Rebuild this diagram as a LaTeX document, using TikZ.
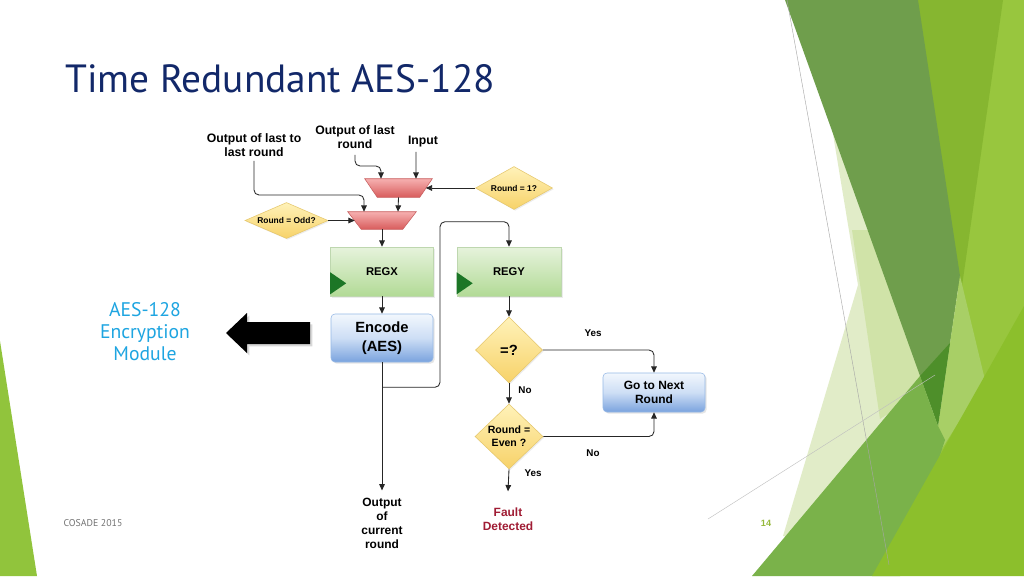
\documentclass[tikz,border=0pt]{standalone}
\usepackage{fontspec}
\setmainfont{Liberation Sans}
\newfontfamily\ptsans{PT Sans}
\usetikzlibrary{shapes.geometric,arrows.meta,shadows}
\definecolor{navy}{RGB}{18,40,105}
\definecolor{cyantxt}{RGB}{30,165,225}
\definecolor{faultred}{RGB}{160,28,52}
\definecolor{leftgreen}{RGB}{145,196,60}
\definecolor{paleA}{RGB}{225,236,200}
\definecolor{paleB}{RGB}{208,227,168}
\definecolor{ygreen}{RGB}{134,182,48}
\definecolor{brightg}{RGB}{152,198,62}
\definecolor{darkband}{RGB}{111,158,76}
\definecolor{darkest}{RGB}{78,143,42}
\definecolor{lightg}{RGB}{168,207,102}
\definecolor{midg}{RGB}{122,178,74}
\definecolor{lowg}{RGB}{140,191,44}
\definecolor{pagenum}{RGB}{150,185,60}
\begin{document}
\begin{tikzpicture}[x=0.25mm,y=-0.25mm,
  arr/.style={draw=black!85, line width=0.6pt, -{Triangle[length=4.5pt,width=4pt]}},
  toplab/.style={font=\bfseries\fontsize{8.7}{10}\selectfont, align=center, inner sep=0pt},
  small/.style={font=\bfseries\fontsize{7}{8}\selectfont, inner sep=0pt},
  muxbox/.style={rectangle, inner sep=0pt, draw=none},
  muxshape/.style={draw={rgb,255:red,200;green,95;blue,95}, line width=0.4pt,
    top color={rgb,255:red,246;green,176;blue,176}, bottom color={rgb,255:red,216;green,92;blue,92}},
  dia/.style={diamond, inner sep=0pt, draw={rgb,255:red,230;green,200;blue,110}, line width=0.4pt,
    top color={rgb,255:red,255;green,242;blue,185}, bottom color={rgb,255:red,247;green,210;blue,105},
    drop shadow={opacity=0.15, shadow xshift=0.3mm, shadow yshift=-0.3mm}},
  regbox/.style={rectangle, inner sep=0pt, draw={rgb,255:red,190;green,215;blue,175}, line width=0.4pt,
    top color={rgb,255:red,230;green,243;blue,220}, bottom color={rgb,255:red,178;green,218;blue,150},
    minimum height=12.25mm, font=\bfseries\fontsize{8}{9}\selectfont,
    drop shadow={opacity=0.15, shadow xshift=0.4mm, shadow yshift=-0.4mm}},
  bluebox/.style={rectangle, rounded corners=1mm, inner sep=0pt, draw={rgb,255:red,150;green,185;blue,230}, line width=0.4pt,
    top color={rgb,255:red,242;green,247;blue,253}, bottom color={rgb,255:red,122;green,163;blue,222},
    middle color={rgb,255:red,205;green,222;blue,245}, align=center,
    drop shadow={opacity=0.2, shadow xshift=0.4mm, shadow yshift=-0.4mm}},
  tri/.style={fill={rgb,255:red,28;green,118;blue,38}}
]
\useasboundingbox (0,0) rectangle (1024,576);
\fill[white] (0,0) rectangle (1024,576);

% ---- background facets ----
\fill[leftgreen] (0,341) -- (37,576) -- (0,576) -- cycle;
\fill[paleA] (829,110) -- (858,285) -- (783,536) -- (830,545) -- (935,380) -- (880,150) -- cycle;
\fill[paleB] (852,230) -- (900,230) -- (925,390) -- (880,419) -- cycle;
\fill[brightg] (1000,0) -- (1024,0) -- (1024,320) -- (936,463) -- (960,280) -- cycle;
\fill[ygreen] (905,0) -- (1003,0) -- (960,300) -- cycle;
\fill[darkband] (785,0) -- (918,0) -- (960,276) -- (938,426) -- cycle;
\fill[lightg] (960,276) -- (985,380) -- (933,463) -- (938,426) -- (950,343) -- cycle;
\fill[darkest] (920,376) -- (950,343) -- (938,426) -- cycle;
\fill[midg] (920,376) -- (938,426) -- (945,440) -- (900,576) -- (752,576) -- cycle;
\fill[lowg] (872,576) -- (1024,306) -- (1024,576) -- cycle;
\draw[black!35, line width=0.3pt] (787,0) -- (889,565);
\draw[black!25, line width=0.3pt] (708,519) -- (935,375);

% ---- texts on the slide ----
\node[anchor=base west, inner sep=0pt, text=navy, font=\ptsans\fontsize{28}{30}\selectfont] (title) at (65,92) {Time Redundant AES-128};
\node[align=center, inner sep=0pt, text=cyantxt, font=\ptsans\fontsize{14}{15.6}\selectfont] (aesmod) at (145,332) {AES-128\\Encryption\\Module};
\node[inner sep=0pt, text=black!55, font=\ptsans\fontsize{7}{8}\selectfont] (foot) at (93,523) {COSADE 2015};
\node[inner sep=0pt, text=pagenum, font=\bfseries\fontsize{6.5}{8}\selectfont] (pnum) at (766,523) {14};

% big black arrow
\fill[black, drop shadow={opacity=0.3, shadow xshift=0.6mm, shadow yshift=-0.6mm}]
  (226,333) -- (247,313) -- (247,322) -- (310,322) -- (310,344) -- (247,344) -- (247,353) -- cycle;

% ---- flowchart ----
\node[toplab] (olr2) at (254,145) {Output of last to\\last round};
\node[toplab] (olr) at (355,137) {Output of last\\round};
\node[toplab] (inp) at (423,142) {Input};

\node[muxbox, minimum width=16.75mm, minimum height=4.5mm] (m1) at (398.5,188) {};
\path[muxshape] (m1.north west) -- (m1.north east) -- ([xshift=-3.125mm]m1.south east) -- ([xshift=3.125mm]m1.south west) -- cycle;
\node[muxbox, minimum width=17mm, minimum height=4.25mm] (m2) at (382,220.5) {};
\path[muxshape] (m2.north west) -- (m2.north east) -- ([xshift=-3.375mm]m2.south east) -- ([xshift=3.375mm]m2.south west) -- cycle;

\node[dia, aspect=1.8, minimum width=19.25mm, minimum height=10.75mm, font=\bfseries\fontsize{6}{7}\selectfont] (d1) at (514,188) {Round = 1?};
\node[dia, aspect=2.3, minimum width=20.75mm, minimum height=9mm, font=\bfseries\fontsize{6}{7}\selectfont] (dodd) at (286.5,220.5) {Round = Odd?};

\node[regbox, minimum width=25.75mm] (regx) at (382,271.5) {REGX};
\node[regbox, minimum width=26mm] (regy) at (509,271.5) {REGY};
\fill[tri] ([yshift=6mm]regx.south west) -- ([xshift=4mm,yshift=3.25mm]regx.south west) -- ([yshift=0.5mm]regx.south west) -- cycle;
\fill[tri] ([yshift=6mm]regy.south west) -- ([xshift=4mm,yshift=3.25mm]regy.south west) -- ([yshift=0.5mm]regy.south west) -- cycle;

\node[bluebox, minimum width=25.5mm, minimum height=12mm, font=\bfseries\fontsize{10.5}{13.5}\selectfont] (enc) at (382,338) {Encode\\(AES)};
\node[bluebox, minimum width=25.5mm, minimum height=9.75mm, font=\bfseries\fontsize{8.5}{10}\selectfont] (gonext) at (654,392.5) {Go to Next\\Round};

\node[dia, aspect=1, minimum width=16.75mm, minimum height=16.5mm, font=\bfseries\fontsize{10.5}{12}\selectfont] (deq) at (509,350) {=?};
\node[dia, aspect=1, minimum width=17mm, minimum height=16.25mm, align=center, font=\bfseries\fontsize{7.5}{9}\selectfont] (deven) at (509,436.5) {Round =\\Even ?};

\node[toplab, font=\bfseries\fontsize{8.5}{10}\selectfont] (out) at (382,523) {Output\\of\\current\\round};
\node[toplab, text=faultred, font=\bfseries\fontsize{8.5}{10}\selectfont] (fault) at (508,519) {Fault\\Detected};

% connectors
\draw[arr, rounded corners=1.25mm] ([yshift=-1.5mm]olr.south) |- ([xshift=-4.375mm,yshift=5.5mm]m1.center) -- ([xshift=-4.375mm]m1.north);
\draw[arr] ([xshift=-1.75mm,yshift=-1mm]inp.south) -- ([xshift=4.375mm]m1.north);
\draw[arr] (d1.west) -- ([xshift=-1.625mm]m1.east);
\draw[arr] (m1.south) -- ([xshift=4mm]m2.north);
\draw[arr, rounded corners=1.25mm] ([yshift=-1mm]olr2.south) |- ([xshift=-4.5mm,yshift=6.375mm]m2.center) -- ([xshift=-4.5mm]m2.north);
\draw[arr] (dodd.east) -- ([xshift=1.75mm]m2.west);
\draw[arr] (m2.south) -- (regx.north);
\draw[arr] (regx.south) -- (enc.north);
\draw[arr] (enc.south) -- ([yshift=1.75mm]out.north);
\draw[arr, rounded corners=1.25mm] ([yshift=-6.25mm]enc.south) -| ([xshift=-17.25mm,yshift=6.25mm]regy.north) -| (regy.north);
\draw[arr] (regy.south) -- (deq.north);
\draw[arr, rounded corners=1.25mm] (deq.east) -| (gonext.north);
\draw[arr] (deq.south) -- (deven.north);
\draw[arr, rounded corners=1.25mm] (deven.east) -| (gonext.south);
\draw[arr] (deven.south) -- ([yshift=4mm]fault.north);

\node[small] (yes1) at (593,333) {Yes};
\node[small] (no1) at (525,390) {No};
\node[small] (no2) at (593,453) {No};
\node[small] (yes2) at (533,473) {Yes};
\end{tikzpicture}
\end{document}
